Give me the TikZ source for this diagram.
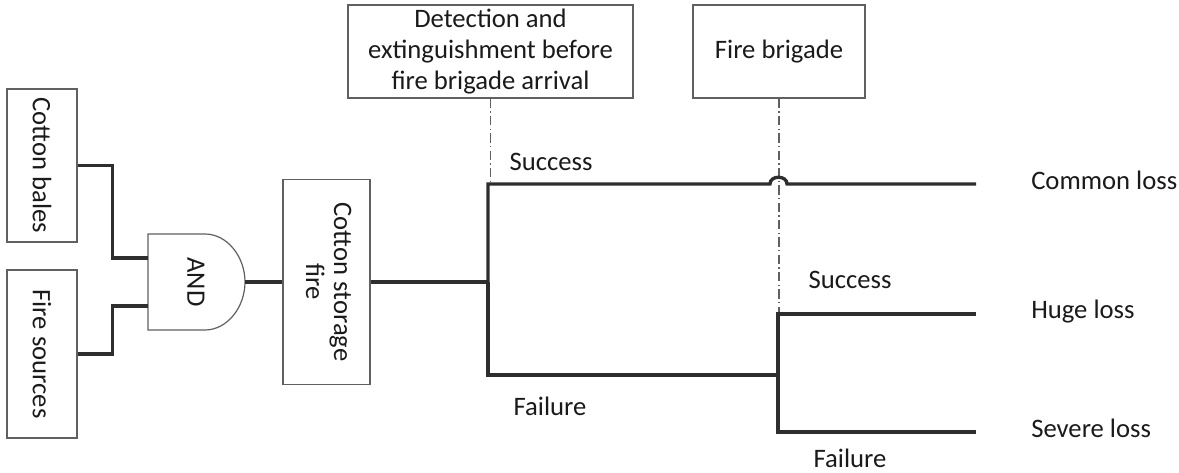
\documentclass[tikz,border=0pt]{standalone}
\usepackage{fontspec}
\setmainfont{Carlito}
\usepackage{graphicx}
\definecolor{linegray}{HTML}{2E2E2E}
\definecolor{boxgray}{HTML}{606060}
\definecolor{dashgray}{HTML}{606060}
\definecolor{txt}{HTML}{1A1A1A}
\begin{document}
\begin{tikzpicture}[x=0.75pt,y=-0.75pt,
  font=\fontsize{20}{24}\selectfont, text=txt,
  box/.style={draw=boxgray, line width=0.9pt, inner sep=0pt, align=center},
  conn/.style={draw=linegray, line width=2.5pt, line join=miter},
  ddash/.style={draw=dashgray, line width=0.8pt, dash pattern=on 7pt off 2.5pt on 1pt off 2.5pt},
  lbl/.style={inner sep=0pt},
  gate/.style={draw=boxgray, line width=0.9pt}]
\useasboundingbox (0,0) rectangle (1179,473);

% boxes
\node[box, minimum width=52.5pt, minimum height=114.75pt] (cb) at (42,165.5)
  {\rotatebox{-90}{Cotton bales}};
\node[box, minimum width=52.5pt, minimum height=126pt] (fs) at (42,354)
  {\rotatebox{-90}{Fire sources}};
\node[box, minimum width=65.25pt, minimum height=153.75pt] (csf) at (326.5,282)
  {\rotatebox{-90}{\begin{tabular}{@{}c@{}}Cotton storage\\[-3pt]fire\end{tabular}}};
\node[box, minimum width=213.75pt, minimum height=69.75pt] (det) at (490.5,51.5)
  {Detection and\\[-1pt]extinguishment before\\[-1pt]fire brigade arrival};
\node[box, minimum width=129pt, minimum height=69.75pt] (fb) at (779,51.5)
  {Fire brigade};

% AND gate
\draw[gate] (148,234) -- (205,234) .. controls (227,234) and (245,256.5) .. (245,282)
  .. controls (245,307.5) and (227,330) .. (205,330) -- (148,330) -- cycle;
\node[lbl, rotate=-90] (and) at (196,282) {AND};
\coordinate (andin1) at (148,258);
\coordinate (andin2) at (148,306);
\coordinate (andout) at (245,282);

% branch points
\coordinate (b1) at (488,282);
\coordinate (hopL) at (770,184);
\coordinate (hopR) at (787,184);
\coordinate (b2) at (778,375);
\coordinate (e1) at (976,184);
\coordinate (e2) at (976,314);
\coordinate (e3) at (976,432);
\coordinate (d1) at (490.5,184);
\coordinate (d2) at (779,314);

% dash-dot guide lines
\draw[ddash] (det.south) -- (d1);
\draw[ddash] (fb.south) -- (d2);

% connectors
\draw[conn] (cb.east) -- ++(35,0) |- (andin1);
\draw[conn] (fs.east) -- ++(35,0) |- (andin2);
\draw[conn] (andout) -- (csf.west);
\draw[conn] (csf.east) -- (b1);
\draw[conn] (b1) |- (hopL) .. controls (770,175) and (787,175) .. (hopR) -- (e1);
\draw[conn] (b1) |- (b2);
\draw[conn] (b2) |- (e2);
\draw[conn] (b2) |- (e3);

% labels
\node[lbl] (s1) at (551,162) {Success};
\node[lbl] (f1) at (550,406) {Failure};
\node[lbl] (s2) at (850,280) {Success};
\node[lbl] (f2) at (850,458) {Failure};
\node[lbl, anchor=mid west] (o1) at (1031,186) {Common loss};
\node[lbl, anchor=mid west] (o2) at (1031,315) {Huge loss};
\node[lbl, anchor=mid west] (o3) at (1031,434) {Severe loss};
\end{tikzpicture}
\end{document}
